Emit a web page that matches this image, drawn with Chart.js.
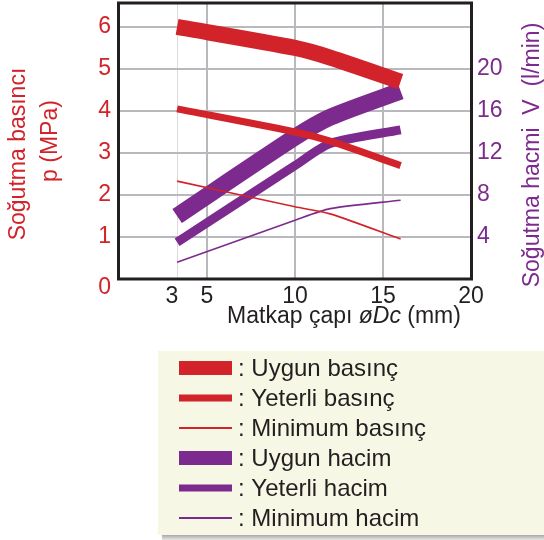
<!DOCTYPE html>
<html><head><meta charset="utf-8">
<script src="https://cdn.jsdelivr.net/npm/chart.js@4/dist/chart.umd.min.js"></script>
<style>html,body{margin:0;padding:0;background:#fff}#wrap{width:544px;height:540px}</style>
</head><body><div id="wrap"><canvas id="c" width="544" height="540"></canvas></div>
<script>
// ---- data ----
const xTickValues = [0, 3, 3.3, 5, 10, 15, 20];
const xTickLabels = ['', '3', '', '5', '10', '15', '20'];
const leftTickValues = [0, 1, 2, 3, 4, 5, 6];
const rightTickValues = [4, 8, 12, 16, 20];
const diameters = [3.3, 10, 12, 16];
const uygunBasinc = [6.0, 5.5, 5.27, 4.7];
const yeterliBasinc = [4.05, 3.5, 3.28, 2.7];
const minimumBasinc = [2.33, 1.72, 1.55, 0.95];
const uygunHacim = [6.0, 13.5, 15.4, 17.9];
const yeterliHacim = [3.5, 10.8, 12.9, 14.2];
const minimumHacim = [1.6, 5.6, 6.7, 7.5];
const seriesLabels = [': Uygun basınç', ': Yeterli basınç', ': Minimum basınç', ': Uygun hacim', ': Yeterli hacim', ': Minimum hacim'];

const RED = '#d2232a', PURPLE = '#7d2a8e', INK = '#231f20', GRID = '#b9b9bd';
const FONT = '"Liberation Sans", Arial, Helvetica, sans-serif';

const pts = vals => diameters.map((x, i) => ({x, y: vals[i]}));
function ds(label, vals, color, width, legendW, axis) {
  return {label, data: pts(vals), borderColor: color, backgroundColor: color, borderWidth: width,
    legendWeight: legendW, yAxisID: axis, pointRadius: 0, tension: 0.25, fill: false,
    borderCapStyle: 'butt', borderJoinStyle: 'round'};
}
const datasets = [
  ds(seriesLabels[0], uygunBasinc, RED, 16, 14, 'y'),
  ds(seriesLabels[1], yeterliBasinc, RED, 7, 7, 'y'),
  ds(seriesLabels[2], minimumBasinc, RED, 1.6, 2, 'y'),
  ds(seriesLabels[3], uygunHacim, PURPLE, 17, 14, 'y1'),
  ds(seriesLabels[4], yeterliHacim, PURPLE, 9, 7, 'y1'),
  ds(seriesLabels[5], minimumHacim, PURPLE, 1.6, 2, 'y1'),
];

const decor = {
  id: 'decor',
  beforeDatasetsDraw(chart) {
    const {ctx, chartArea: a} = chart;
    ctx.save();
    ctx.strokeStyle = INK; ctx.lineWidth = 3;
    ctx.strokeRect(a.left - 0.5, a.top, a.right - a.left + 1, a.bottom - a.top);
    ctx.restore();
  },
  afterDraw(chart) {
    const {ctx} = chart;
    ctx.save();
    // corner zero
    ctx.fillStyle = RED; ctx.font = '23px ' + FONT; ctx.textAlign = 'right'; ctx.textBaseline = 'middle';
    ctx.fillText('0', 111, 288);
    // left title
    ctx.font = '23px ' + FONT; ctx.textAlign = 'center';
    ctx.save(); ctx.translate(19, 154); ctx.rotate(-Math.PI / 2); ctx.fillText('Soğutma basıncı', 0, 0); ctx.restore();
    ctx.save(); ctx.translate(51, 141); ctx.rotate(-Math.PI / 2); ctx.fillText('p (MPa)', 0, 0); ctx.restore();
    // right title
    ctx.fillStyle = PURPLE;
    ctx.save(); ctx.translate(533, 155); ctx.rotate(-Math.PI / 2); ctx.fillText('Soğutma hacmi  V  (l/min)', 0, 0); ctx.restore();
    // x title
    ctx.fillStyle = INK; ctx.textBaseline = 'alphabetic'; ctx.textAlign = 'left';
    const parts = [['Matkap çapı ', ''], ['øDc', 'italic '], [' (mm)', '']];
    let total = 0;
    parts.forEach(p => { ctx.font = p[1] + '23px ' + FONT; total += ctx.measureText(p[0]).width; });
    let x = 344 - total / 2;
    parts.forEach(p => { ctx.font = p[1] + '23px ' + FONT; ctx.fillText(p[0], x, 323); x += ctx.measureText(p[0]).width; });
    // legend box
    const bx = 158, by = 351, bw = 386, bh = 184;
    const g = ctx.createLinearGradient(0, by + bh, 0, 540);
    g.addColorStop(0, '#a8a8a8'); g.addColorStop(1, '#e8e8e8');
    ctx.fillStyle = g; ctx.fillRect(bx + 4, by + bh, bw, 540 - by - bh);
    ctx.fillStyle = '#f7f7e5'; ctx.fillRect(bx, by, bw, bh);
    chart.data.datasets.forEach((d, i) => {
      const cy = 368 + i * 30;
      ctx.fillStyle = d.borderColor;
      const h = d.legendWeight;
      ctx.fillRect(179, cy - h / 2, 53, h);
      ctx.fillStyle = INK; ctx.font = '24px ' + FONT; ctx.textBaseline = 'middle'; ctx.textAlign = 'left';
      ctx.fillText(d.label, 238, cy + 1);
    });
    ctx.restore();
  }
};

function noPadV(s) { s.paddingTop = 0; s.paddingBottom = 0; }

new Chart(document.getElementById('c'), {
  type: 'line',
  data: {datasets},
  plugins: [decor],
  options: {
    responsive: false, animation: false, devicePixelRatio: 1,
    layout: {padding: {top: 3, left: 0, right: 0, bottom: 0}},
    plugins: {legend: {display: false}, tooltip: {enabled: false}},
    scales: {
      x: {
        type: 'linear', min: 0, max: 20,
        afterBuildTicks: s => { s.ticks = xTickValues.map(v => ({value: v})); },
        afterFit: s => { s.height = 261; s.paddingLeft = 0; s.paddingRight = 0; },
        ticks: {autoSkip: false, maxRotation: 0, color: INK, padding: 4, font: {size: 23, family: FONT},
          callback: (v, i) => xTickLabels[i]},
        grid: {drawTicks: false,
          color: c => (c.tick && (c.tick.value === 3.3)) ? '#dcdcdc' : ((c.tick && [5, 10, 15].includes(c.tick.value)) ? GRID : 'rgba(0,0,0,0)'),
          lineWidth: c => (c.tick && c.tick.value === 3.3) ? 1 : 2},
        border: {display: false}
      },
      y: {
        position: 'left', min: 0, max: 6.57,
        afterBuildTicks: s => { s.ticks = leftTickValues.map(v => ({value: v})); },
        afterFit: s => { s.width = 119; noPadV(s); },
        ticks: {color: RED, padding: 8, font: {size: 23, family: FONT}, callback: v => v === 0 ? '' : String(v)},
        grid: {drawTicks: false, color: c => (c.tick && c.tick.value === 0) ? 'rgba(0,0,0,0)' : GRID, lineWidth: 2},
        border: {display: false}
      },
      y1: {
        position: 'right', min: 0, max: 26.28,
        afterBuildTicks: s => { s.ticks = rightTickValues.map(v => ({value: v})); },
        afterFit: s => { s.width = 73; noPadV(s); },
        ticks: {color: PURPLE, padding: 6, font: {size: 23, family: FONT}},
        grid: {display: false, drawTicks: false},
        border: {display: false}
      }
    }
  }
});
</script></body></html>
